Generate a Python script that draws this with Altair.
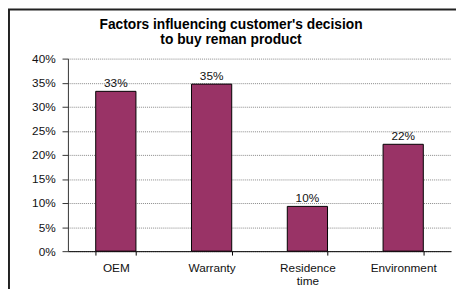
import altair as alt
import pandas as pd

categories = ["OEM", "Warranty", "Residence time", "Environment"]
values = [0.332, 0.347, 0.093, 0.222]
labels = ["33%", "35%", "10%", "22%"]
title_lines = ["Factors influencing customer's decision", "to buy reman product"]
y_ticks = [0, 0.05, 0.1, 0.15, 0.2, 0.25, 0.3, 0.35, 0.4]

df = pd.DataFrame({"cat": categories, "val": values, "lab": labels})

x = alt.X("cat:N", sort=categories, title=None,
          scale=alt.Scale(paddingInner=0.58, paddingOuter=0.29),
          axis=alt.Axis(labelAngle=0, labelExpr="split(datum.label, ' ')",
                        tickBand="extent", tickSize=4, tickColor="#000",
                        domainColor="#000", labelPadding=8, labelLineHeight=13,
                        labelFont="Liberation Sans", labelFontSize=12,
                        labelColor="#111"))
y = alt.Y("val:Q", title=None,
          scale=alt.Scale(domain=[0, 0.4], nice=False),
          axis=alt.Axis(values=y_ticks,
                        format=".0%", tickSize=6, tickColor="#333",
                        domainColor="#333", labelPadding=7, labelOverlap=False,
                        labelFont="Liberation Sans", labelFontSize=12,
                        labelColor="#111", grid=True, gridColor="#888",
                        gridDash=[1, 1], gridWidth=1))

bars = alt.Chart(df).mark_bar(color="#993366", stroke="#000", strokeWidth=1).encode(x=x, y=y)
text = alt.Chart(df).mark_text(dy=-8, font="Liberation Sans", fontSize=12, color="#111").encode(
    x=x, y=y, text="lab:N")

frame = alt.Chart(pd.DataFrame({"k": [0]})).mark_rect(
    fillOpacity=0, stroke="#222", strokeWidth=2).encode(
    x=alt.value(-60), x2=alt.value(600), y=alt.value(-50), y2=alt.value(500))

t1 = alt.Chart(pd.DataFrame({"t": [title_lines[0]]})).mark_text(
    font="Liberation Sans", fontSize=14, fontWeight="bold", color="#000", baseline="alphabetic").encode(
    x=alt.value(166), y=alt.value(-30), text="t:N")
t2 = alt.Chart(pd.DataFrame({"t": [title_lines[1]]})).mark_text(
    font="Liberation Sans", fontSize=14, fontWeight="bold", color="#000", baseline="alphabetic").encode(
    x=alt.value(166), y=alt.value(-15), text="t:N")

chart = alt.layer(bars, text, frame, t1, t2).properties(
    width=390, height=196,
    autosize=alt.AutoSizeParams(type="none"),
    padding={"left": 61, "top": 49, "right": 5, "bottom": 36},
).configure_view(strokeWidth=0)

chart.save("out.html", embed_options={"renderer": "svg", "actions": False})
